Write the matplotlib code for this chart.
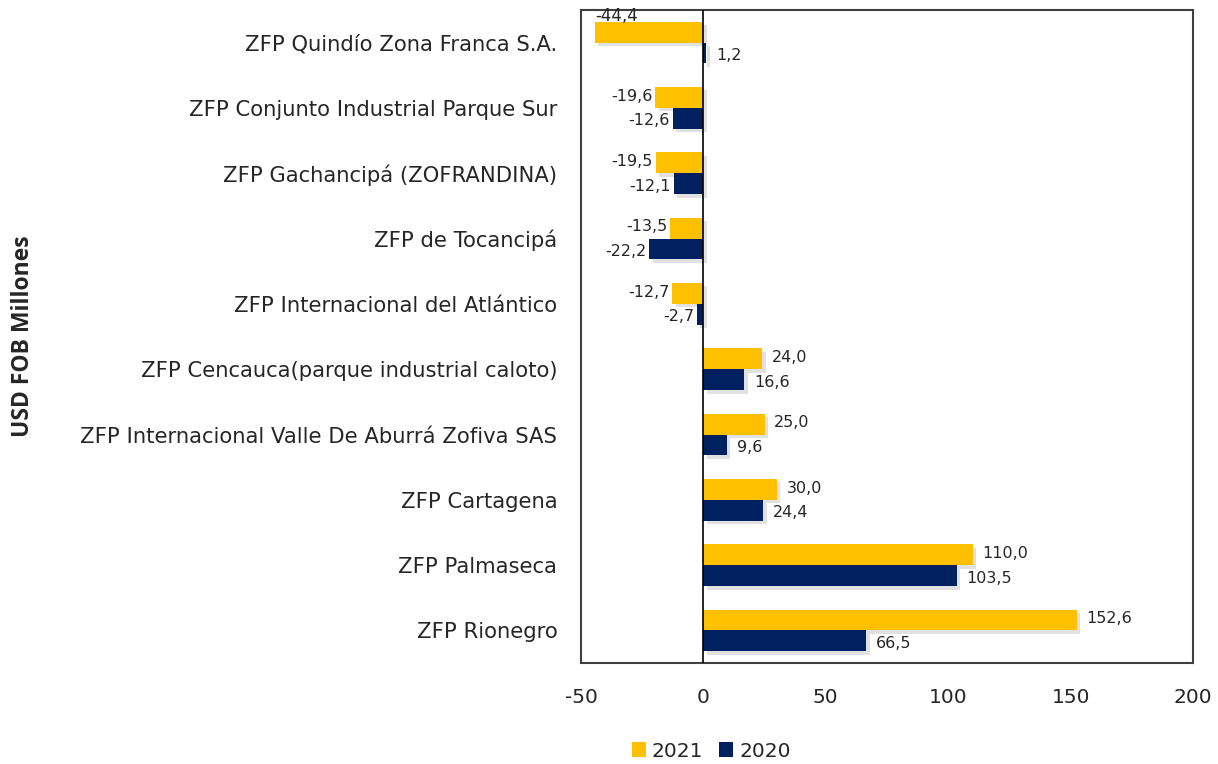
import matplotlib.pyplot as plt
import matplotlib.patheffects as pe
import numpy as np

plt.rcParams['font.family'] = ['DejaVu Sans']
plt.rcParams['axes.unicode_minus'] = False

categories = ['ZFP Quindío Zona Franca S.A.',
              'ZFP Conjunto Industrial Parque Sur',
              'ZFP Gachancipá (ZOFRANDINA)',
              'ZFP de Tocancipá',
              'ZFP Internacional del Atlántico',
              'ZFP Cencauca(parque industrial caloto)',
              'ZFP Internacional Valle De Aburrá Zofiva SAS',
              'ZFP Cartagena',
              'ZFP Palmaseca',
              'ZFP Rionegro']
vals_2021 = [-44.4, -19.6, -19.5, -13.5, -12.7, 24.0, 25.0, 30.0, 110.0, 152.6]
vals_2020 = [1.2, -12.6, -12.1, -22.2, -2.7, 16.6, 9.6, 24.4, 103.5, 66.5]

gold = '#FFC000'
navy = '#002060'
txt = '#262626'

fig = plt.figure(figsize=(12.18, 7.64), dpi=100)
ax = fig.add_axes([0.477, 0.132, 0.5025, 0.855])

y = np.arange(len(categories))
h = 0.32
shadow = [pe.SimplePatchShadow(offset=(2.5, -2.5), shadow_rgbFace='#888888', alpha=0.25), pe.Normal()]

b1 = ax.barh(y - h / 2, vals_2021, height=h, color=gold, label='2021', zorder=3)
b2 = ax.barh(y + h / 2, vals_2020, height=h, color=navy, label='2020', zorder=3)
for b in list(b1) + list(b2):
    b.set_path_effects(shadow)

xmin, xmax = -50, 200
ax.set_xlim(xmin, xmax)
ax.set_ylim(len(categories) - 0.5, -0.5)
ax.axvline(0, color='black', lw=1.2, zorder=4)


def fmt(v):
    return ('%.1f' % v).replace('.', ',')


for vals, off in ((vals_2021, -h / 2 - 0.02), (vals_2020, h / 2 + 0.04)):
    for i, v in enumerate(vals):
        if v >= 0:
            ax.annotate(fmt(v), (v, y[i] + off), xytext=(7, 0), textcoords='offset points',
                        ha='left', va='center', fontsize=11.5, color=txt, zorder=5)
        elif v - 12 < xmin:
            ax.annotate(fmt(v), (xmin, y[i] + off - 0.22), xytext=(10, 0), textcoords='offset points',
                        ha='left', va='center', fontsize=12, color=txt, zorder=5)
        else:
            ax.annotate(fmt(v), (v, y[i] + off), xytext=(-2, 0), textcoords='offset points',
                        ha='right', va='center', fontsize=11.5, color=txt, zorder=5)

ax.set_yticks(y)
ax.set_yticklabels(categories)
ax.set_xticks([-50, 0, 50, 100, 150, 200])
ax.tick_params(axis='y', length=0, pad=17, labelsize=15.2, labelcolor=txt)
ax.tick_params(axis='x', length=0, pad=18, labelsize=14.5, labelcolor=txt)
for s in ax.spines.values():
    s.set_color('#404040')
    s.set_linewidth(1.5)

fig.text(0.019, 0.56, 'USD FOB Millones', rotation=90, ha='center', va='center',
         fontsize=16.5, fontweight='bold', color=txt, family='Open Sans')

leg = fig.legend(handles=[b1, b2], labels=['2021', '2020'], loc='center', bbox_to_anchor=(0.584, 0.017),
                 ncol=2, frameon=False, fontsize=14.5, handlelength=0.7, handleheight=0.7,
                 handletextpad=0.3, columnspacing=0.8, labelcolor=txt)
for hnd in leg.legend_handles:
    hnd.set_path_effects([])

fig.savefig('out.png', dpi=100)
